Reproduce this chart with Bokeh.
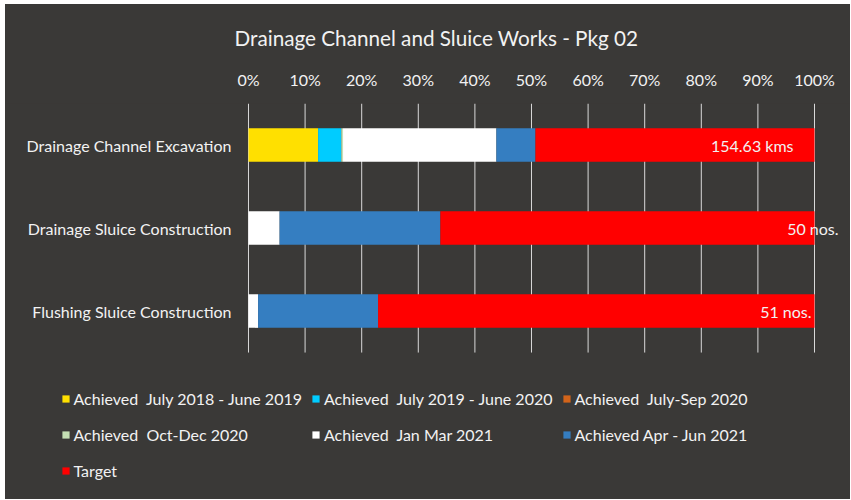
from bokeh.plotting import figure
from bokeh.models import (ColumnDataSource, FixedTicker, PrintfTickFormatter, Legend,
                          LegendItem, LabelSet)
from bokeh.core.properties import value
from bokeh.embed import file_html
from bokeh.resources import INLINE

# ---- data ----
categories = ["Drainage Channel Excavation", "Drainage Sluice Construction", "Flushing Sluice Construction"]
series_names = ["Achieved  July 2018 - June 2019", "Achieved  July 2019 - June 2020",
                "Achieved  July-Sep 2020", "Achieved  Oct-Dec 2020",
                "Achieved  Jan Mar 2021", "Achieved Apr - Jun 2021", "Target"]
jul18_jun19 = [12.3, 0.0, 0.0]
jul19_jun20 = [4.1, 0.0, 0.0]
jul_sep20 = [0.0, 0.0, 0.0]
oct_dec20 = [0.3, 0.0, 0.0]
jan_mar21 = [27.1, 5.5, 1.7]
apr_jun21 = [6.9, 28.4, 21.2]
target = [49.3, 66.1, 77.1]
target_labels = ["154.63 kms", "50 nos.", "51 nos."]
tick_values = [0, 10, 20, 30, 40, 50, 60, 70, 80, 90, 100]

# ---- styles ----
colors = ["#ffe000", "#00ccff", "#d2641a", "#c5e0b4", "#ffffff", "#357ec1", "#ff0000"]
label_offsets = [-21, 24, -3]
BG = "#3a3937"
TXT = "#f2f2f2"
FONT = "Lato"

n = len(categories)
ypos = [n - i - 0.5 for i in range(n)]  # first category on top

keys = ["s0", "s1", "s2", "s3", "s4", "s5", "s6"]
data = dict(y=ypos)
for k, arr in zip(keys, [jul18_jun19, jul19_jun20, jul_sep20, oct_dec20, jan_mar21, apr_jun21, target]):
    data[k] = arr
src = ColumnDataSource(data)

p = figure(x_range=(-42.93, 106.36), y_range=(n - 4.77, n),
           width=845, height=495, output_backend="svg", toolbar_location=None,
           x_axis_location="above",
           min_border_left=0, min_border_right=0, min_border_top=99, min_border_bottom=0,
           background_fill_color=BG, border_fill_color=BG, outline_line_color=None,
           styles={"margin-left": "5px", "margin-top": "4px", "background-color": BG})
p.outline_line_alpha = 0

# grid lines over the bar area only
grid_src = ColumnDataSource(dict(x=tick_values, y0=[0] * len(tick_values), y1=[n] * len(tick_values)))
p.segment(x0="x", x1="x", y0="y0", y1="y1", source=grid_src, line_color="#d9d9d9", line_width=1)

renderers = p.hbar_stack(keys, y="y", height=0.405, color=colors, source=src, line_color=None)

# axes
p.xaxis.ticker = FixedTicker(ticks=tick_values)
p.xaxis.formatter = PrintfTickFormatter(format="%d%%")
p.xaxis.axis_line_color = None
p.xaxis.major_tick_line_color = None
p.xaxis.minor_tick_line_color = None
p.xaxis.major_label_standoff = 9
p.xaxis.major_label_text_color = TXT
p.xaxis.major_label_text_font = FONT
p.xaxis.major_label_text_font_size = "16px"

p.yaxis.fixed_location = 0
p.yaxis.ticker = FixedTicker(ticks=ypos)
p.yaxis.major_label_overrides = {y: c for y, c in zip(ypos, categories)}
p.yaxis.axis_line_color = None
p.yaxis.major_tick_line_color = None
p.yaxis.minor_tick_line_color = None
p.yaxis.major_label_standoff = 11
p.yaxis.major_label_text_color = TXT
p.yaxis.major_label_text_font = FONT
p.yaxis.major_label_text_font_size = "16px"

p.grid.visible = False

# data labels on Target
lab_src = ColumnDataSource(dict(y=ypos, x=[100] * n, text=target_labels, off=label_offsets))
labels = LabelSet(x="x", y="y", text="text", x_offset="off", source=lab_src,
                  text_align="right", text_baseline="middle", text_color=TXT,
                  text_font=value(FONT), text_font_size="16px")
p.add_layout(labels)

# title
p.title.text = "Drainage Channel and Sluice Works - Pkg 02"
p.title.text_color = TXT
p.title.text_font = FONT
p.title.text_font_size = "20.7px"
p.title.text_font_style = "normal"
p.title.align = "left"
p.title.offset = 229
p.title.standoff = 34

# legend
items = [LegendItem(label=nm, renderers=[r]) for nm, r in zip(series_names, renderers)]
legend = Legend(items=items, orientation="horizontal", ncols=3, location=(55.5, 15.5),
                glyph_width=9, glyph_height=9, label_standoff=4, spacing=9, padding=0, margin=0,
                background_fill_alpha=0, border_line_color=None, label_text_color=TXT,
                label_text_font=FONT, label_text_font_size="16px", label_height=27)
p.add_layout(legend, "center")

open("out.html", "w").write(file_html(p, INLINE))
